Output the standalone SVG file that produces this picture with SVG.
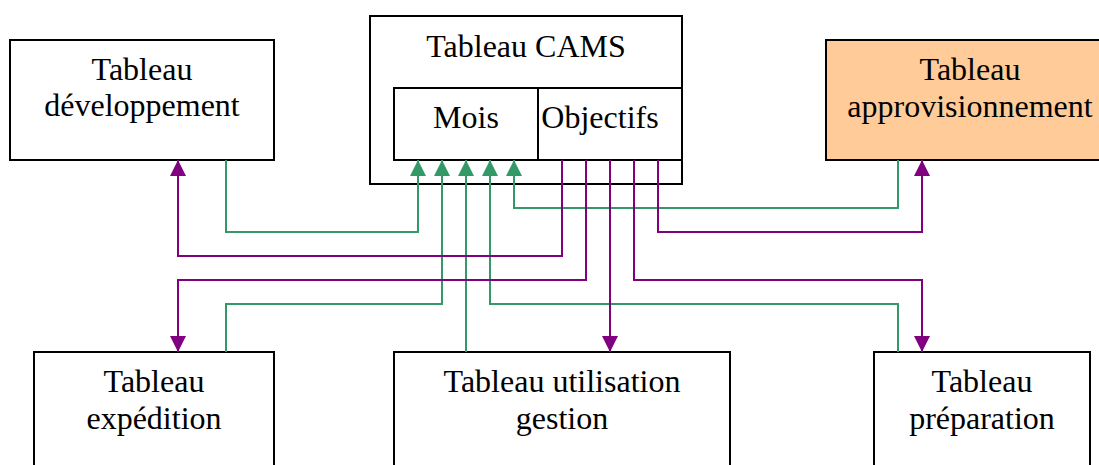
<svg xmlns="http://www.w3.org/2000/svg" width="1099" height="465" viewBox="0 0 1099 465">
<style>
.box{fill:#fff;stroke:#000;stroke-width:2}
.orange{fill:#FFCC99;stroke:#000;stroke-width:2}
.t{font-family:'Liberation Serif', 'Times New Roman', serif;font-size:32px;fill:#000;text-anchor:middle}
.g{fill:none;stroke:#339966;stroke-width:2;marker-end:url(#ag)}
.p{fill:none;stroke:#800080;stroke-width:2;marker-end:url(#ap)}
</style>
<defs>
<marker id="ag" markerUnits="userSpaceOnUse" markerWidth="16" markerHeight="17" refX="16" refY="8.5" orient="auto" viewBox="0 0 16 17">
<path d="M0,0.5 L16,8.5 L0,16.5 z" fill="#339966"/>
</marker>
<marker id="ap" markerUnits="userSpaceOnUse" markerWidth="16" markerHeight="17" refX="16" refY="8.5" orient="auto" viewBox="0 0 16 17">
<path d="M0,0.5 L16,8.5 L0,16.5 z" fill="#800080"/>
</marker>
</defs>
<rect width="1099" height="465" fill="#fff"/>
<g id="dev">
<rect class="box" x="10" y="40" width="264" height="120"/>
<text class="t" x="142" y="80">Tableau</text>
<text class="t" x="142" y="116">développement</text>
</g>
<g id="cams">
<rect class="box" x="370" y="16" width="312" height="168"/>
<text class="t" x="526" y="57">Tableau CAMS</text>
</g>
<g id="mois">
<rect class="box" x="394" y="88" width="144" height="72"/>
<text class="t" x="466" y="128">Mois</text>
</g>
<g id="objectifs">
<rect class="box" x="538" y="88" width="144" height="72"/>
<text class="t" x="600" y="128">Objectifs</text>
</g>
<g id="appro">
<rect class="orange" x="826" y="40" width="290" height="120"/>
<text class="t" x="970" y="80">Tableau</text>
<text class="t" x="970" y="117">approvisionnement</text>
</g>
<g id="exp">
<rect class="box" x="34" y="352" width="240" height="130"/>
<text class="t" x="154" y="392">Tableau</text>
<text class="t" x="154" y="429">expédition</text>
</g>
<g id="util">
<rect class="box" x="394" y="352" width="336" height="130"/>
<text class="t" x="562" y="392">Tableau utilisation</text>
<text class="t" x="562" y="429">gestion</text>
</g>
<g id="prep">
<rect class="box" x="874" y="352" width="216" height="130"/>
<text class="t" x="982" y="392">Tableau</text>
<text class="t" x="982" y="429">préparation</text>
</g>
<g id="connectors">
<polyline class="g" points="226,160 226,232 418,232 418,160"/>
<polyline class="g" points="226,352 226,304 442,304 442,160"/>
<polyline class="g" points="466,352 466,160"/>
<polyline class="g" points="898,352 898,304 490,304 490,160"/>
<polyline class="g" points="898,160 898,208 514,208 514,160"/>
<polyline class="p" points="562,160 562,256 178,256 178,160"/>
<polyline class="p" points="586,160 586,280 178,280 178,352"/>
<polyline class="p" points="610,160 610,352"/>
<polyline class="p" points="634,160 634,280 922,280 922,352"/>
<polyline class="p" points="658,160 658,232 922,232 922,160"/>
</g>
</svg>
